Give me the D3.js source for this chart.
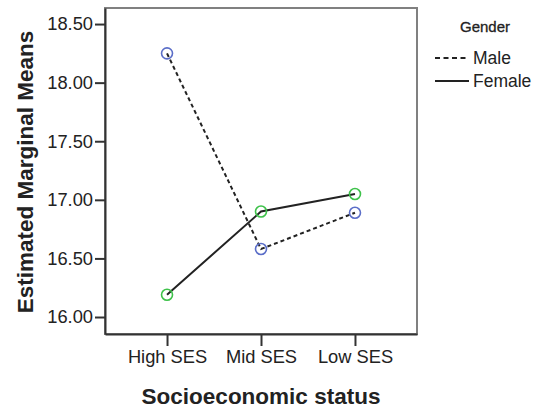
<!DOCTYPE html>
<html><head><meta charset="utf-8">
<script src="https://cdn.jsdelivr.net/npm/d3@7"></script>
<style>body{margin:0;background:#fff}svg{display:block}text{font-family:"Liberation Sans",Arial,sans-serif;fill:#222}</style>
</head><body><svg id="c" width="534" height="409"></svg>
<script>
const categories = ["High SES", "Mid SES", "Low SES"];
const maleValues = [18.25, 16.58, 16.89];
const femaleValues = [16.19, 16.90, 17.05];
const yTicks = [16.00, 16.50, 17.00, 17.50, 18.00, 18.50];
const seriesNames = ["Male", "Female"];

const svg = d3.select("#c");
const L = 105, R = 417, T = 8, B = 334;
const x = d3.scalePoint().domain(categories).range([L, R]).padding(0.66);
const y = d3.scaleLinear().domain([15.855, 18.637]).range([B, T]);

svg.append("rect").attr("x", L).attr("y", T).attr("width", R - L).attr("height", B - T)
  .attr("fill", "none").attr("stroke", "#808080").attr("stroke-width", 2);

const ya = svg.append("g").attr("transform", `translate(${L},0)`)
  .call(d3.axisLeft(y).tickValues(yTicks).tickFormat(d3.format(".2f")).tickSize(10).tickPadding(2).tickSizeOuter(0));
const xa = svg.append("g").attr("transform", `translate(0,${B})`)
  .call(d3.axisBottom(x).tickSize(12).tickPadding(4).tickSizeOuter(0));
[ya, xa].forEach(g => {
  g.select(".domain").attr("stroke", "#333").attr("stroke-width", 2);
  g.selectAll(".tick line").attr("stroke", "#333").attr("stroke-width", 2);
  g.selectAll(".tick text").attr("font-size", 18.3).attr("fill", "#222")
    .attr("font-family", "Liberation Sans, Arial, sans-serif");
});

const series = [
  {name: seriesNames[0], values: maleValues, dash: "4,3", color: "#5b6ec8"},
  {name: seriesNames[1], values: femaleValues, dash: null, color: "#3ec24a"}
];
const line = d3.line().x((d, i) => x(categories[i])).y(d => y(d));
series.forEach(s => {
  svg.append("path").datum(s.values).attr("d", line).attr("fill", "none")
    .attr("stroke", "#222").attr("stroke-width", 2).attr("stroke-dasharray", s.dash);
});
series.forEach(s => {
  svg.selectAll(null).data(s.values).enter().append("circle")
    .attr("cx", (d, i) => x(categories[i])).attr("cy", d => y(d)).attr("r", 5.5)
    .attr("fill", "none").attr("stroke", s.color).attr("stroke-width", 1.6);
});

svg.append("text").attr("transform", `translate(33,${(T + B) / 2 + 1}) rotate(-90)`)
  .attr("text-anchor", "middle").attr("font-size", 22.5).attr("font-weight", "bold").text("Estimated Marginal Means");
svg.append("text").attr("x", (L + R) / 2).attr("y", 404).attr("text-anchor", "middle")
  .attr("font-size", 22.5).attr("font-weight", "bold").text("Socioeconomic status");

const lg = svg.append("g");
lg.append("text").attr("x", 485).attr("y", 32).attr("text-anchor", "middle").attr("font-size", 15)
  .attr("stroke", "#222").attr("stroke-width", 0.3).text("Gender");
series.forEach((s, i) => {
  const ly = 58 + i * 23;
  lg.append("line").attr("x1", 435).attr("x2", 469).attr("y1", ly).attr("y2", ly)
    .attr("stroke", "#222").attr("stroke-width", 2).attr("stroke-dasharray", s.dash ? "5,3.5" : null);
  lg.append("text").attr("x", 473).attr("y", ly + 6).attr("font-size", 17.5).text(s.name);
});
</script></body></html>
